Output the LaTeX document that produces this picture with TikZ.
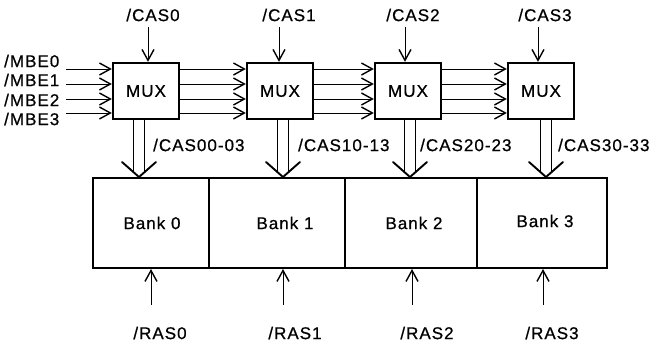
\documentclass[tikz,border=0pt]{standalone}
\usepackage{fontspec}
\setmainfont{Liberation Sans}[LetterSpace=6,FakeBold=0.7]
\usetikzlibrary{arrows.meta,calc}
\begin{document}
\begin{tikzpicture}[x=1pt,y=-1pt,
  txt/.style={font=\fontsize{17}{17}\selectfont, inner sep=0pt},
  mux/.style={draw, line width=2.3pt, minimum width=66pt, minimum height=56pt, inner sep=0pt, font=\fontsize{17}{17}\selectfont},
  cell/.style={draw, line width=2pt, minimum height=90pt, inner sep=0pt},
  sig/.style={line width=0.9pt, -{Straight Barb[length=11pt,width=12pt,line width=1.4pt]}},
  bus/.style={line width=1.9pt, line cap=round, line join=miter}
]
\useasboundingbox (0,0) rectangle (652,346);

% MUX boxes
\node[mux] (m0) at (146,91) {MUX};
\node[mux] (m1) at (280,91) {MUX};
\node[mux] (m2) at (408,91) {MUX};
\node[mux] (m3) at (541,91) {MUX};

% Bank cells
\node[cell, minimum width=116pt] (b0) at (151,223) {};
\node[cell, minimum width=136pt] (b1) at (277,223) {};
\node[cell, minimum width=132pt] (b2) at (411,223) {};
\node[cell, minimum width=130pt] (b3) at (542,223) {};
\node[txt] (bt0) at (152,223) {Bank 0};
\node[txt] (bt1) at (285,223) {Bank 1};
\node[txt] (bt2) at (414,223) {Bank 2};
\node[txt] (bt3) at (545,221) {Bank 3};

% /CAS inputs
\node[txt] (cas0) at (153,15) {/CAS0};
\node[txt] (cas1) at (289,15) {/CAS1};
\node[txt] (cas2) at (413,15) {/CAS2};
\node[txt] (cas3) at (545,15) {/CAS3};
\coordinate (c0) at (148,27);
\coordinate (c1) at (279,27);
\coordinate (c2) at (405,27);
\coordinate (c3) at (538,27);
\draw[sig] (c0) -- (c0 |- m0.north);
\draw[sig] (c1) -- (c1 |- m1.north);
\draw[sig] (c2) -- (c2 |- m2.north);
\draw[sig] (c3) -- (c3 |- m3.north);

% /MBE inputs
\node[txt, anchor=west] (mbe0) at (4,61) {/MBE0};
\node[txt, anchor=west] (mbe1) at (4,80) {/MBE1};
\node[txt, anchor=west] (mbe2) at (4,100) {/MBE2};
\node[txt, anchor=west] (mbe3) at (4,119) {/MBE3};
\foreach \y [count=\i from 0] in {69,84,99,113} {
  \coordinate (e\i) at (66,\y);
  \draw[sig] (e\i) -- (e\i -| m0.west);
  \draw[sig] (m0.east |- e\i) -- (m1.west |- e\i);
  \draw[sig] (m1.east |- e\i) -- (m2.west |- e\i);
  \draw[sig] (m2.east |- e\i) -- (m3.west |- e\i);
}

% wide bus arrows
\foreach \m/\b/\x in {m0/b0/139, m1/b1/283, m2/b2/410, m3/b3/546} {
  \coordinate (w) at (\x,0);
  \draw[bus] ($(\m.south -| w)+(-5.5,0)$) -- ($(\b.north -| w)+(-5.5,-4.9)$);
  \draw[bus] ($(\m.south -| w)+(5.5,0)$) -- ($(\b.north -| w)+(5.5,-4.9)$);
  \draw[bus] ($(\b.north -| w)+(-17,-15)$) -- (\b.north -| w) -- ++(17,-15);
}
\node[txt, anchor=west] (k0) at (153,145) {/CAS00-03};
\node[txt, anchor=west] (k1) at (298,145) {/CAS10-13};
\node[txt, anchor=west] (k2) at (420,145) {/CAS20-23};
\node[txt, anchor=west] (k3) at (558,145) {/CAS30-33};

% /RAS inputs
\coordinate (r0) at (151,305);
\coordinate (r1) at (283,305);
\coordinate (r2) at (412,305);
\coordinate (r3) at (543,305);
\draw[sig] (r0) -- (r0 |- b0.south);
\draw[sig] (r1) -- (r1 |- b1.south);
\draw[sig] (r2) -- (r2 |- b2.south);
\draw[sig] (r3) -- (r3 |- b3.south);
\node[txt] (ras0) at (160,333) {/RAS0};
\node[txt] (ras1) at (295,333) {/RAS1};
\node[txt] (ras2) at (427,333) {/RAS2};
\node[txt] (ras3) at (552,333) {/RAS3};
\end{tikzpicture}
\end{document}
